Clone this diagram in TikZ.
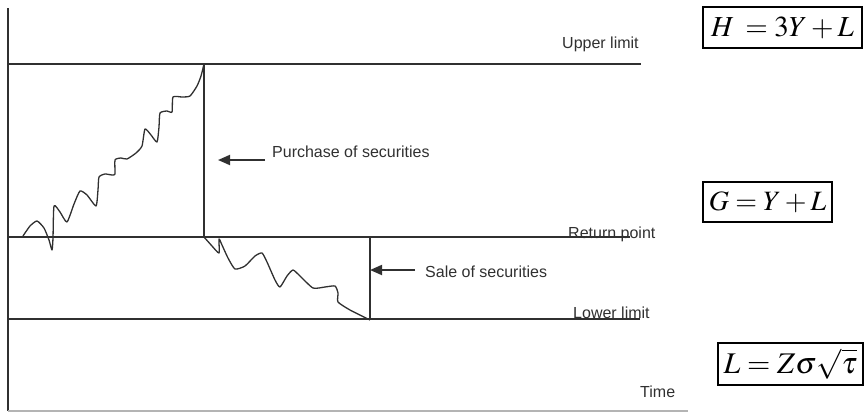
\documentclass[tikz,border=0pt]{standalone}
\usepackage{mathptmx}
\usepackage[no-math]{fontspec}
\setmainfont{Liberation Sans}
\usetikzlibrary{arrows.meta}
\definecolor{chartgray}{HTML}{303030}
\definecolor{axisgray}{HTML}{B4B4B4}

\begin{document}
\begin{tikzpicture}[
    x=1pt, y=-1pt,
    level/.style={line width=1.6pt, chartgray},
    walk/.style={line width=1.3pt, chartgray, line join=round},
    lbl/.style={inner sep=0pt, anchor=base west, text=chartgray,
                font=\fontsize{16}{19}\selectfont},
    arr/.style={-{Triangle[length=12pt, width=10pt]}, line width=1.8pt, chartgray},
    formula/.style={draw, line width=1.2pt, inner sep=0pt, minimum height=41pt},
  ]
  \useasboundingbox (0,0) rectangle (864,413);

  % ── Axes ──
  \coordinate (ytop) at (8,8);
  \coordinate (orig) at (8,411);
  \coordinate (xend) at (688,411);
  \draw[level] (ytop) -- (orig);
  \draw[line width=1.6pt, axisgray] (orig) -- (xend);

  % ── Limits ──
  \coordinate (upL) at (8,64);    \coordinate (upR) at (641,64);
  \coordinate (retL) at (8,237);  \coordinate (retR) at (630,237);
  \coordinate (lowL) at (8,319);  \coordinate (lowR) at (640,319);
  \draw[level] (upL) -- (upR);
  \draw[level] (retL) -- (retR);
  \draw[level] (lowL) -- (lowR);

  \node[lbl] (upper) at (562,48) {Upper limit};
  \node[lbl] (retpt) at (568,238) {Return point};
  \node[lbl] (lower) at (573,318) {Lower limit};
  \node[lbl] (time) at (640,397) {Time};

  % ── Cash balance, rising ──
  \draw[walk] plot[smooth, tension=0.35] coordinates {
    (23,236) (30,226) (37,221) (44,228) (49,240) (52,250) (53,238) (54,206)
    (60,212) (67,222) (74,204) (80,191) (87,195) (96,206) (98,190) (99,177)
    (105,174) (112,175) (115,174) (115,160) (121,158) (127,159) (136,153)
    (142,146) (145,129) (151,135) (157,142) (159,127) (160,113) (167,111)
    (172,112) (173,97) (182,97) (190,96) (197,86) (201,76) (204,64)};

  % ── Cash balance, falling ──
  \draw[walk] plot[smooth, tension=0.35] coordinates {
    (204,237) (212,246) (219,253) (219,239) (222,245) (228,258) (235,269)
    (245,266) (255,256) (262,253) (267,262) (275,280) (280,287) (287,276)
    (293,270) (300,276) (313,288) (325,287) (335,286) (338,293) (338,302)
    (350,310) (370,320)};

  % ── Purchase / sale ──
  \coordinate (buytop) at (204,64);  \coordinate (buybot) at (204,237);
  \coordinate (selltop) at (370,237); \coordinate (sellbot) at (370,319);
  \draw[level] (buytop) -- (buybot);
  \draw[level] (selltop) -- (sellbot);

  \node[lbl] (buy) at (272,157) {Purchase of securities};
  \coordinate (buytail) at (265,160);
  \coordinate (buytip) at (218,160);
  \draw[arr] (buytail) -- (buytip);

  \node[lbl] (sell) at (425,277) {Sale of securities};
  \coordinate (selltail) at (415,270);
  \coordinate (selltip) at (370,270);
  \draw[arr] (selltail) -- (selltip);

  % ── Formulas ──
  \node[formula, minimum width=159pt] (hform) at (782.5,27.5)
    {\fontsize{29}{34}\selectfont $H\mkern3mu = 3Y + L$};
  \node[formula, minimum width=129pt, minimum height=40pt] (gform) at (767.5,202)
    {\fontsize{28}{33}\selectfont $G = Y + L$};
  \node[formula, minimum width=145pt, minimum height=42pt] (lform) at (790.5,364)
    {\fontsize{30}{35}\selectfont $L = Z\sigma\sqrt{\tau}$};

\end{tikzpicture}
\end{document}
